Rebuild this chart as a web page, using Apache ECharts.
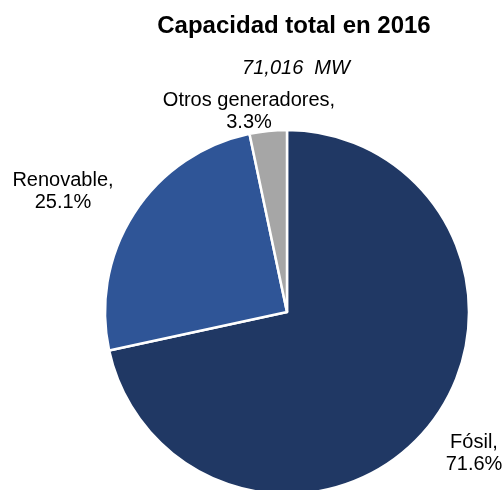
<!DOCTYPE html>
<html>
<head>
<meta charset="utf-8">
<script src="https://cdn.jsdelivr.net/npm/echarts@6/dist/echarts.min.js"></script>
<style>
html,body{margin:0;padding:0;background:#fff;}
#chart{width:504px;height:490px;}
</style>
</head>
<body>
<div id="chart"></div>
<script>
const titleText = 'Capacidad total en 2016';
const subtitleText = '71,016  MW';
const categories = ['Fósil', 'Renovable', 'Otros generadores'];
const values = [71.6, 25.1, 3.3];
const colors = ['#203864', '#2F5597', '#A6A6A6'];
const labelSpots = [[474, 453], [63, 191], [249, 111]];

const chart = echarts.init(document.getElementById('chart'));
chart.setOption({
  backgroundColor: '#ffffff',
  animation: false,
  title: [
    { text: titleText, left: 289, top: 9, textAlign: 'center',
      textStyle: { fontFamily: 'Liberation Sans', fontWeight: 'bold', fontSize: 24, color: '#000' } },
    { text: subtitleText, left: 291, top: 53, textAlign: 'center',
      textStyle: { fontFamily: 'Liberation Sans', fontStyle: 'italic', fontWeight: 'normal', fontSize: 20, color: '#000' } }
  ],
  series: [{
    type: 'pie',
    center: [287, 312],
    radius: 182,
    startAngle: 90,
    clockwise: true,
    data: categories.map((c, i) => ({ name: c, value: values[i], itemStyle: { color: colors[i] } })),
    itemStyle: { borderColor: '#ffffff', borderWidth: 2.5 },
    label: {
      show: true,
      position: 'outside',
      formatter: p => p.name + ',\n' + p.value.toFixed(1) + '%',
      fontFamily: 'Liberation Sans',
      fontSize: 20,
      lineHeight: 22,
      color: '#000',
      align: 'center',
      overflow: 'none',
      width: 220
    },
    labelLine: { show: false },
    labelLayout: p => ({ x: labelSpots[p.dataIndex][0], y: labelSpots[p.dataIndex][1], align: 'center', verticalAlign: 'middle' }),
    emphasis: { disabled: true }
  }]
});
</script>
</body>
</html>
